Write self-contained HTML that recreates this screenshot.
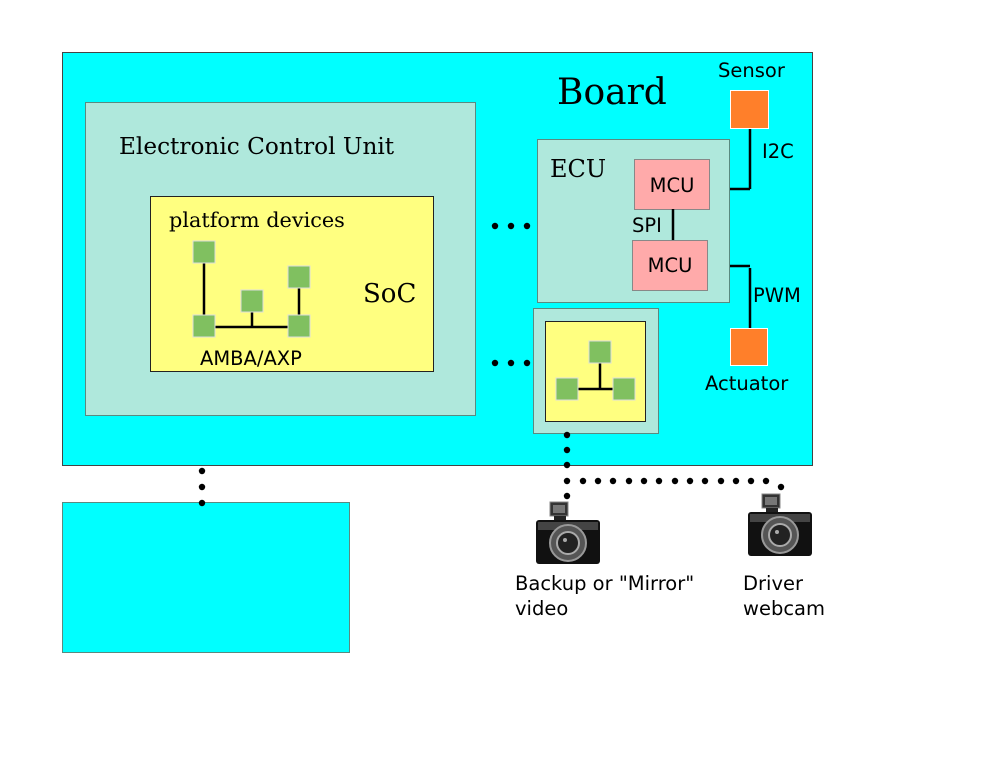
<!DOCTYPE html>
<html><head><meta charset="utf-8"><style>
html,body{margin:0;padding:0;background:#fff;width:990px;height:765px;overflow:hidden}
svg text.s{font-family:"DejaVu Sans","Liberation Sans",sans-serif}
svg text.r{font-family:"DejaVu Serif","Liberation Serif",serif}
</style></head><body>
<svg width="990" height="765" viewBox="0 0 990 765" xmlns="http://www.w3.org/2000/svg">
<defs>
<g id="cam">
<rect x="14" y="0" width="18" height="14" fill="#333" stroke="#888"/>
<rect x="17" y="3" width="12" height="8" fill="#777"/>
<rect x="18" y="14" width="12" height="6" fill="#222"/>
<rect x="0" y="18" width="64" height="44" rx="3" fill="#111"/>
<rect x="2" y="20" width="60" height="8" fill="#444"/>
<circle cx="32" cy="41" r="18" fill="#555" stroke="#999" stroke-width="2"/>
<circle cx="32" cy="41" r="11" fill="#222" stroke="#aaa" stroke-width="2"/>
<circle cx="29" cy="38" r="2" fill="#aaa"/>
</g>
</defs>
<rect x="62.5" y="52.5" width="750" height="413" fill="#00ffff" stroke="#444"/>
<text class="r" x="557" y="104" font-size="36">Board</text>
<rect x="85.5" y="102.5" width="390" height="313" fill="#afe8dc" stroke="#5a8a80"/>
<text class="r" x="119" y="154" font-size="23.2">Electronic Control Unit</text>
<rect x="150.5" y="196.5" width="283" height="175" fill="#ffff80" stroke="#222"/>
<text class="r" x="169" y="227" font-size="20.8">platform devices</text>
<text class="r" x="363" y="302" font-size="26">SoC</text>
<text class="s" x="200" y="365" font-size="19.5">AMBA/AXP</text>
<g stroke="#000" stroke-width="2.5">
<line x1="204" y1="263" x2="204" y2="315"/><line x1="299" y1="288" x2="299" y2="315"/>
<line x1="215" y1="327" x2="288" y2="327"/><line x1="252" y1="312" x2="252" y2="327"/>
<line x1="715" y1="189" x2="750" y2="189"/><line x1="750" y1="128" x2="750" y2="189"/>
<line x1="715" y1="266" x2="750" y2="266"/><line x1="750" y1="268" x2="750" y2="328"/>
</g>
<g fill="#80c060" stroke="#ddd">
<rect x="193" y="241" width="22" height="22"/><rect x="288" y="266" width="22" height="22"/>
<rect x="241" y="290" width="22" height="22"/><rect x="193" y="315" width="22" height="22"/>
<rect x="288" y="315" width="22" height="22"/>
</g>
<g fill="#000">
<circle cx="495" cy="226" r="3.2"/><circle cx="511" cy="226" r="3.2"/><circle cx="527" cy="226" r="3.2"/>
<circle cx="495" cy="363" r="3.2"/><circle cx="511" cy="363" r="3.2"/><circle cx="527" cy="363" r="3.2"/>
</g>
<rect x="537.5" y="139.5" width="192" height="163" fill="#afe8dc" stroke="#5a8a80"/>
<text class="r" x="550" y="177" font-size="24">ECU</text>
<rect x="634.5" y="159.5" width="75" height="50" fill="#ffaaaa" stroke="#888"/>
<text class="s" x="672" y="192" font-size="19.5" text-anchor="middle">MCU</text>
<rect x="632.5" y="240.5" width="75" height="50" fill="#ffaaaa" stroke="#888"/>
<text class="s" x="670" y="272" font-size="19.5" text-anchor="middle">MCU</text>
<line x1="673" y1="209" x2="673" y2="240" stroke="#000" stroke-width="2.5"/>
<text class="s" x="632" y="232" font-size="19.5">SPI</text>
<rect x="730.5" y="90.5" width="38" height="38" fill="#ff7f2a" stroke="#fff"/>
<text class="s" x="718" y="77" font-size="19.5">Sensor</text>
<text class="s" x="762" y="158" font-size="19.5">I2C</text>
<rect x="730.5" y="328.5" width="37" height="37" fill="#ff7f2a" stroke="#fff"/>
<text class="s" x="705" y="390" font-size="19.5">Actuator</text>
<text class="s" x="753" y="302" font-size="19.5">PWM</text>
<rect x="533.5" y="308.5" width="125" height="125" fill="#afe8dc" stroke="#5a8a80"/>
<rect x="545.5" y="321.5" width="100" height="100" fill="#ffff80" stroke="#222"/>
<g stroke="#000" stroke-width="2.5"><line x1="600" y1="363" x2="600" y2="389"/><line x1="578" y1="389" x2="613" y2="389"/></g>
<g fill="#80c060" stroke="#ddd">
<rect x="589" y="341" width="22" height="22"/><rect x="556" y="378" width="22" height="22"/><rect x="613" y="378" width="22" height="22"/>
</g>
<rect x="62.5" y="502.5" width="287" height="150" fill="#00ffff" stroke="#5a8a80"/>
<g fill="#000">
<circle cx="567" cy="435" r="3.2"/><circle cx="567" cy="450" r="3.2"/><circle cx="567" cy="465" r="3.2"/>
<circle cx="567" cy="481" r="3.2"/><circle cx="567" cy="496" r="3.2"/>
<circle cx="583" cy="481" r="3.2"/><circle cx="598" cy="481" r="3.2"/><circle cx="613" cy="481" r="3.2"/>
<circle cx="629" cy="481" r="3.2"/><circle cx="644" cy="481" r="3.2"/><circle cx="659" cy="481" r="3.2"/>
<circle cx="675" cy="481" r="3.2"/><circle cx="690" cy="481" r="3.2"/><circle cx="705" cy="481" r="3.2"/>
<circle cx="721" cy="481" r="3.2"/><circle cx="736" cy="481" r="3.2"/><circle cx="751" cy="481" r="3.2"/>
<circle cx="766" cy="481" r="3.2"/><circle cx="781" cy="487" r="3.2"/>
<circle cx="202" cy="471" r="3.2"/><circle cx="202" cy="487" r="3.2"/><circle cx="202" cy="503" r="3.2"/>
</g>
<use href="#cam" x="536" y="502"/>
<use href="#cam" x="748" y="494"/>
<text class="s" font-size="19.5"><tspan x="515" y="590">Backup or "Mirror"</tspan><tspan x="515" y="615">video</tspan></text>
<text class="s" font-size="19.5"><tspan x="743" y="590">Driver</tspan><tspan x="743" y="615">webcam</tspan></text>
</svg>
</body></html>
